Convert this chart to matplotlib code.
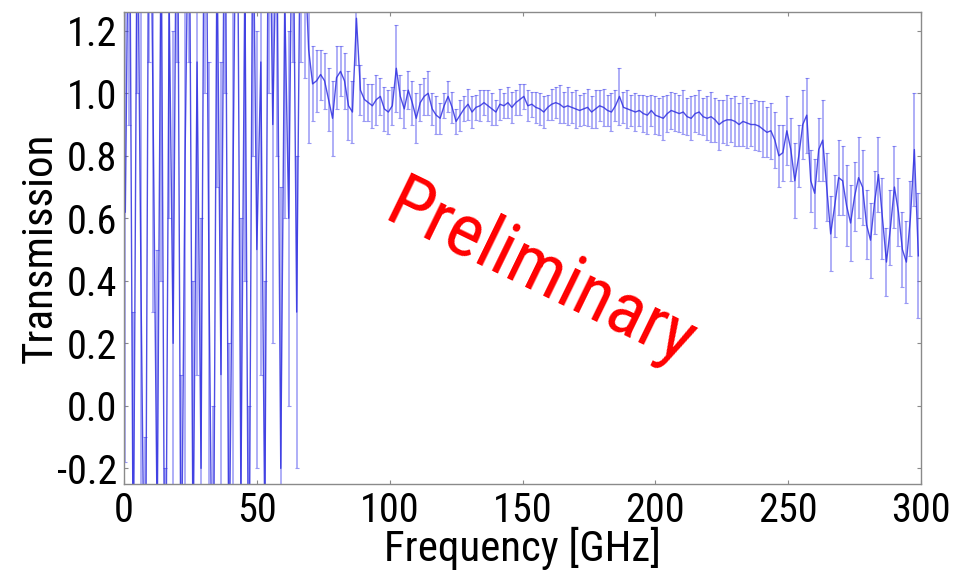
import numpy as np
import matplotlib
matplotlib.use("Agg")
import matplotlib.pyplot as plt
from matplotlib import font_manager

# ---------------- data ----------------
# frequency grid: 0.5 GHz + 1.5 GHz steps, 200 points
noise_vals = [0.62, 1.90, -0.60, 1.70, 0.30, -0.90, 2.10, 0.90, -0.40, 1.60,
              -1.00, 1.30, 0.20, 2.00, -0.70, 0.80, 1.80, -0.50, 1.10, -0.20,
              2.20, 0.40, -0.90, 1.50, 0.10, 1.90, -0.60, 0.70, 2.00, -0.30,
              1.40, -0.80, 1.70, 0.50, 1.10, -0.40, 1.90, 0.90, 1.60, -0.20,
              1.30, 0.60, 1.80, 0.30, 1.70, 1.45, 1.14]
noise_err = [0.80, 1.00, 0.90, 0.70, 1.10, 0.80, 1.00, 0.60, 0.90, 1.20,
             0.80, 0.70, 1.00, 0.90, 0.80, 1.10, 0.70, 0.90, 1.00, 0.80,
             1.20, 0.70, 0.90, 0.80, 1.00, 0.90, 0.80, 1.10, 0.70, 0.90,
             1.00, 0.80, 0.90, 0.70, 1.00, 0.80, 0.90, 0.70, 0.80, 0.90,
             0.70, 0.60, 0.70, 0.50, 0.60, 0.40, 0.30]

seg_b_vals = [1.03, 1.04, 1.06, 1.04, 0.98, 0.92, 1.05, 1.07, 1.04, 0.96,
              0.94, 1.24, 1.01, 0.98, 0.97, 0.96, 0.98, 0.99, 0.95, 0.94,
              0.96, 1.08, 0.99, 0.95, 1.01, 0.97, 0.92, 0.97, 0.99, 1.00]
seg_b_err = [0.12, 0.10, 0.08, 0.09, 0.10, 0.12, 0.10, 0.08, 0.09, 0.11,
             0.10, 0.15, 0.08, 0.07, 0.06, 0.07, 0.08, 0.06, 0.07, 0.07,
             0.06, 0.14, 0.07, 0.06, 0.06, 0.07, 0.08, 0.06, 0.06, 0.07]

seg_c_vals = [0.95, 0.93, 0.92, 0.96, 0.99, 0.955, 0.91, 0.93, 0.95, 0.965,
              0.94, 0.955, 0.96, 0.97, 0.96, 0.95, 0.94, 0.965, 0.96, 0.97,
              0.955, 0.97, 0.98, 0.99, 0.96, 0.965, 0.955, 0.95, 0.94, 0.955,
              0.965]
seg_c_err = [0.05, 0.06, 0.05, 0.04, 0.05, 0.05, 0.04, 0.05, 0.04, 0.05,
             0.05, 0.04, 0.05, 0.04, 0.05, 0.05, 0.04, 0.05, 0.04, 0.05,
             0.05, 0.04, 0.05, 0.04, 0.05, 0.04, 0.05, 0.05, 0.05, 0.04,
             0.05]

seg_d_vals = [0.97, 0.965, 0.955, 0.96, 0.955, 0.95, 0.945, 0.95, 0.955, 0.94,
              0.95, 0.96, 0.955, 0.945, 0.94, 0.96, 0.99, 0.955, 0.95, 0.945,
              0.94, 0.945, 0.935, 0.93, 0.945, 0.93, 0.925, 0.92, 0.935, 0.945,
              0.94]
seg_d_err = [0.05, 0.06, 0.05, 0.06, 0.05, 0.06, 0.05, 0.05, 0.06, 0.05,
             0.06, 0.05, 0.06, 0.05, 0.06, 0.05, 0.09, 0.05, 0.06, 0.05,
             0.06, 0.05, 0.06, 0.06, 0.05, 0.06, 0.06, 0.07, 0.06, 0.06,
             0.06]

seg_e_vals = [0.935, 0.94, 0.925, 0.92, 0.935, 0.94, 0.925, 0.92, 0.925, 0.915,
              0.90, 0.91, 0.915, 0.915, 0.91, 0.90, 0.91, 0.905, 0.90, 0.90,
              0.895, 0.885, 0.875, 0.88, 0.85, 0.80, 0.81, 0.88, 0.82, 0.72,
              0.80, 0.90]
seg_e_err = [0.06, 0.07, 0.06, 0.07, 0.06, 0.07, 0.06, 0.07, 0.08, 0.07,
             0.08, 0.07, 0.08, 0.07, 0.08, 0.07, 0.08, 0.08, 0.07, 0.08,
             0.08, 0.09, 0.08, 0.09, 0.09, 0.10, 0.09, 0.11, 0.10, 0.12,
             0.10, 0.11]

seg_f_vals = [0.93, 0.72, 0.68, 0.82, 0.85, 0.70, 0.55, 0.64, 0.73, 0.72,
              0.64, 0.585, 0.67, 0.73, 0.70, 0.58, 0.53, 0.65, 0.74, 0.60,
              0.46, 0.57, 0.70, 0.62, 0.50, 0.46, 0.60, 0.82, 0.48]
seg_f_err = [0.12, 0.10, 0.11, 0.10, 0.13, 0.11, 0.12, 0.10, 0.12, 0.11,
             0.13, 0.12, 0.11, 0.13, 0.12, 0.11, 0.12, 0.10, 0.12, 0.13,
             0.11, 0.12, 0.13, 0.11, 0.12, 0.13, 0.12, 0.18, 0.20]

transmission = np.array(noise_vals + seg_b_vals + seg_c_vals + seg_d_vals
                        + seg_e_vals + seg_f_vals)
trans_err = np.array(noise_err + seg_b_err + seg_c_err + seg_d_err
                     + seg_e_err + seg_f_err)
freq_start, freq_step = 0.5, 1.5
frequency = freq_start + freq_step * np.arange(len(transmission))

x_ticks = [0, 50, 100, 150, 200, 250, 300]
y_ticks = [-0.2, 0.0, 0.2, 0.4, 0.6, 0.8, 1.0, 1.2]

# ---------------- fonts ----------------
avail = {f.name for f in font_manager.fontManager.ttflist}
fam = "DejaVu Sans"
for cand in ["Liberation Sans Narrow", "Roboto Condensed", "Open Sans Condensed", "Lato"]:
    if cand in avail:
        fam = cand
        break
plt.rcParams["font.family"] = [fam, "DejaVu Sans"]

# ---------------- figure ----------------
fig = plt.figure(figsize=(9.74, 5.79), dpi=100)
ax = fig.add_axes([124 / 974, 1 - 484 / 579, (921 - 124) / 974, (484 - 12) / 579])

ax.errorbar(frequency, transmission, yerr=trans_err, fmt="none",
            ecolor="#5555ee", alpha=0.6, elinewidth=1.1, capsize=1.5,
            capthick=0.8)
ax.plot(frequency, transmission, color="#2f2fe0", lw=1.0, alpha=0.85)

ax.set_xlim(0, 300)
ax.set_ylim(-0.25, 1.26)
ax.set_xticks(x_ticks)
ax.set_yticks(y_ticks)
ax.set_xticklabels([str(t) for t in x_ticks])
ax.set_yticklabels([f"{t:.1f}" for t in y_ticks])

for s in ax.spines.values():
    s.set_color("#8a8a8a")
    s.set_linewidth(1.0)
ax.tick_params(direction="in", length=3, color="#8a8a8a", top=True, right=True,
               labelsize=29, pad=5)

ax.set_xlabel("Frequency [GHz]", fontsize=31, labelpad=-2)
ax.set_ylabel("Transmission", fontsize=31, labelpad=-3)

ax.text(0.522, 0.443, "Preliminary", transform=ax.transAxes, color="red",
        fontsize=54, rotation=-26, ha="center", va="center",
        rotation_mode="anchor")

fig.savefig("out.png", dpi=100)
